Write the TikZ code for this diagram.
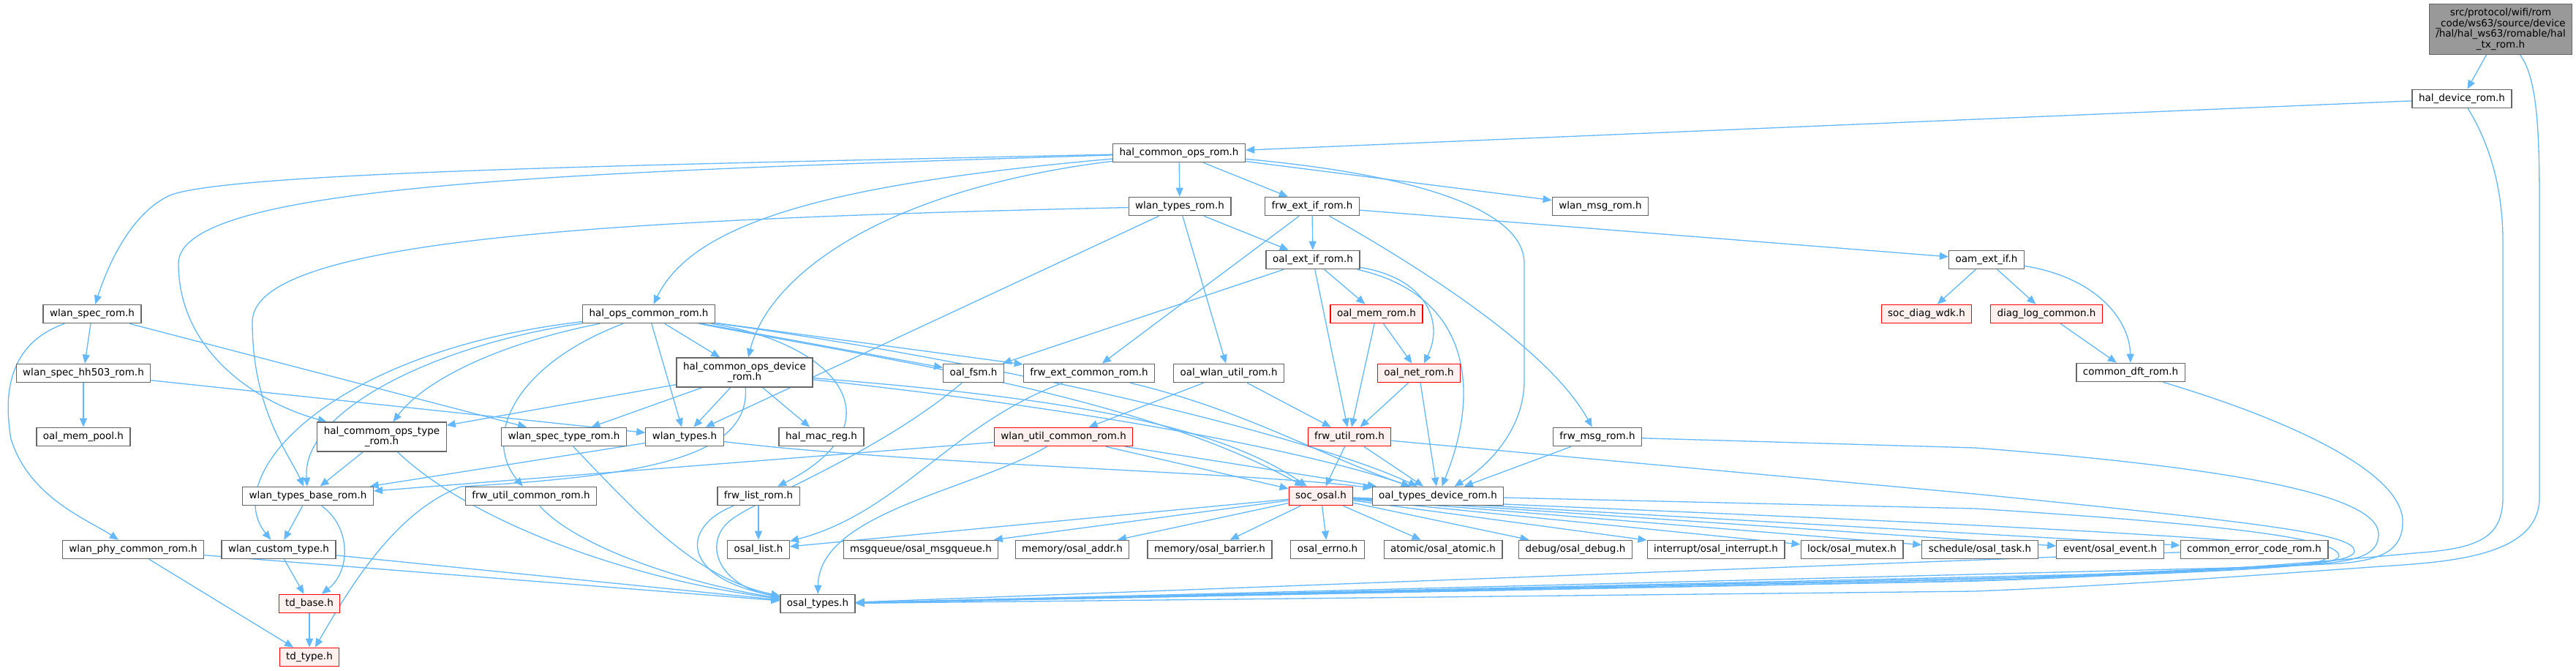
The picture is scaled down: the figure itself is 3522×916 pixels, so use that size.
\documentclass[tikz,border=0pt]{standalone}
\usepackage{fontspec}
\setmainfont{DejaVu Sans}
\usetikzlibrary{arrows.meta}
\usetikzlibrary{backgrounds}

\definecolor{edgeblue}{RGB}{99,184,255}
\definecolor{boxgray}{RGB}{102,102,102}
\definecolor{boxred}{RGB}{255,0,0}
\definecolor{boxpink}{RGB}{255,240,240}
\definecolor{topgray}{RGB}{153,153,153}

\tikzset{
  hdr/.style={draw=boxgray, line width=0.6pt, fill=white,
    font=\fontsize{6.75}{7.25}\selectfont, inner xsep=4.5pt, inner ysep=3pt,
    minimum height=12.5pt},
  redhdr/.style={hdr, draw=boxred, fill=boxpink},
  tophdr/.style={hdr, fill=topgray, align=center},
  dep/.style={draw=edgeblue, line width=0.65pt,
    -{Triangle[length=6pt,width=5pt,fill=edgeblue]}}
}

\begin{document}
\begin{tikzpicture}[x=0.5pt, y=-0.5pt]
    \useasboundingbox (0,0) rectangle (3522,916);

    % rows of headers, top to bottom
    \node[tophdr] (txrom) at (3419,40) {src/protocol/wifi/rom\hfill\\\_code/ws63/source/device\\/hal/hal\_ws63/romable/hal\\\_tx\_rom.h};
    \node[hdr] (hdev) at (3366,135) {hal\_device\_rom.h};
    \node[hdr] (hcops) at (1612,209) {hal\_common\_ops\_rom.h};
    \node[hdr] (wtrom) at (1613,282) {wlan\_types\_rom.h};
    \node[hdr] (fextif) at (1794,282) {frw\_ext\_if\_rom.h};
    \node[hdr] (wmsg) at (2188,282) {wlan\_msg\_rom.h};
    \node[hdr] (oextif) at (1795,355) {oal\_ext\_if\_rom.h};
    \node[hdr] (oamext) at (2716,355) {oam\_ext\_if.h};
    \node[hdr] (wspec) at (126,429) {wlan\_spec\_rom.h};
    \node[hdr] (hopsc) at (887,429) {hal\_ops\_common\_rom.h};
    \node[redhdr] (omem) at (1882,429) {oal\_mem\_rom.h};
    \node[redhdr] (sdiag) at (2634,429) {soc\_diag\_wdk.h};
    \node[redhdr] (dlog) at (2798,429) {diag\_log\_common.h};
    \node[hdr] (hh503) at (114,510) {wlan\_spec\_hh503\_rom.h};
    \node[hdr, align=center] (hdevice) at (1018,509) {hal\_common\_ops\_device\\\_rom.h};
    \node[hdr] (ofsm) at (1331,510) {oal\_fsm.h};
    \node[hdr] (fextc) at (1489,510) {frw\_ext\_common\_rom.h};
    \node[hdr] (owlan) at (1680,510) {oal\_wlan\_util\_rom.h};
    \node[redhdr] (onet) at (1940,510) {oal\_net\_rom.h};
    \node[hdr] (cdft) at (2913,509) {common\_dft\_rom.h};
    \node[hdr] (mpool) at (114,597) {oal\_mem\_pool.h};
    \node[hdr, align=center] (htype) at (522,597) {hal\_commom\_ops\_type\\\_rom.h};
    \node[hdr] (wstype) at (771,597) {wlan\_spec\_type\_rom.h};
    \node[hdr] (wtypes) at (936,597) {wlan\_types.h};
    \node[hdr] (hmac) at (1123,597) {hal\_mac\_reg.h};
    \node[redhdr] (wutil) at (1454,597) {wlan\_util\_common\_rom.h};
    \node[redhdr] (futil) at (1845,597) {frw\_util\_rom.h};
    \node[hdr] (fmsg) at (2184,597) {frw\_msg\_rom.h};
    \node[hdr] (wbase) at (421,678) {wlan\_types\_base\_rom.h};
    \node[hdr] (fuc) at (726,678) {frw\_util\_common\_rom.h};
    \node[hdr] (flist) at (1037,678) {frw\_list\_rom.h};
    \node[redhdr] (sosal) at (1806,678) {soc\_osal.h};
    \node[hdr] (otdev) at (1966,678) {oal\_types\_device\_rom.h};
    \node[hdr] (wphy) at (182,751) {wlan\_phy\_common\_rom.h};
    \node[hdr] (wcust) at (381,751) {wlan\_custom\_type.h};
    \node[hdr] (olist) at (1037,751) {osal\_list.h};
    \node[hdr] (omsgq) at (1259,751) {msgqueue/osal\_msgqueue.h};
    \node[hdr] (oaddr) at (1466,751) {memory/osal\_addr.h};
    \node[hdr] (obar) at (1654,751) {memory/osal\_barrier.h};
    \node[hdr] (oerr) at (1815,751) {osal\_errno.h};
    \node[hdr] (oatom) at (1973,751) {atomic/osal\_atomic.h};
    \node[hdr] (odbg) at (2154,751) {debug/osal\_debug.h};
    \node[hdr] (oint) at (2346,751) {interrupt/osal\_interrupt.h};
    \node[hdr] (omutex) at (2532,751) {lock/osal\_mutex.h};
    \node[hdr] (otask) at (2707,751) {schedule/osal\_task.h};
    \node[hdr] (oevent) at (2885,751) {event/osal\_event.h};
    \node[hdr] (cerr) at (3082,751) {common\_error\_code\_rom.h};
    \node[redhdr] (tdbase) at (423,825) {td\_base.h};
    \node[hdr] (ostypes) at (1118,825) {osal\_types.h};
    \node[redhdr] (tdtype) at (423,898) {td\_type.h};

    % includes, kept behind the boxes
    \begin{pgfonlayer}{background}
    \fill[white] (0,0) rectangle (3522,916);
    \draw[dep] (txrom) -- (hdev);
    \draw[dep] (txrom) .. controls (3472,110) and (3472,200) .. (3472,300) -- (3472,680) .. controls (3472,760) and (3350,768) .. (3256,774) .. controls (3100,785) and (2900,800) .. (2700,808) -- (ostypes);
    \draw[dep] (hdev) -- (hcops);
    \draw[dep] (hdev) .. controls (3400,190) and (3422,250) .. (3422,330) -- (3422,680) .. controls (3422,740) and (3380,750) .. (3300,756) .. controls (3100,775) and (2900,788) .. (2700,794) -- (ostypes);

    \draw[dep] (hcops) -- (wtrom);
    \draw[dep] (hcops) -- (fextif);
    \draw[dep] (hcops) -- (wmsg);
    \draw[dep] (hcops) .. controls (1950,240) and (2084,290) .. (2084,360) -- (2084,520) .. controls (2084,590) and (2030,640) .. (otdev);
    \draw[dep] (hcops) .. controls (900,225) and (300,235) .. (230,268) .. controls (175,295) and (145,370) .. (wspec);
    \draw[dep] (hcops) .. controls (800,235) and (244,250) .. (244,360) .. controls (244,480) and (350,550) .. (htype);
    \draw[dep] (hcops) .. controls (1150,250) and (950,300) .. (hopsc);
    \draw[dep] (hcops) .. controls (1200,260) and (1050,380) .. (hdevice);

    \draw[dep] (wtrom) .. controls (800,300) and (345,330) .. (345,440) .. controls (345,560) and (395,620) .. (wbase);
    \draw[dep] (wtrom) -- (wtypes);
    \draw[dep] (wtrom) -- (owlan);
    \draw[dep] (wtrom) -- (oextif);

    \draw[dep] (fextif) -- (oextif);
    \draw[dep] (fextif) -- (fextc);
    \draw[dep] (fextif) -- (oamext);
    \draw[dep] (fextif) .. controls (1950,370) and (2120,480) .. (fmsg);

    \draw[dep] (oextif) -- (ofsm);
    \draw[dep] (oextif) -- (futil);
    \draw[dep] (oextif) -- (omem);
    \draw[dep] (oextif) .. controls (1950,380) and (1975,440) .. (onet);
    \draw[dep] (oextif) .. controls (2000,400) and (2030,520) .. (otdev);

    \draw[dep] (oamext) -- (sdiag);
    \draw[dep] (oamext) -- (dlog);
    \draw[dep] (oamext) .. controls (2870,380) and (2912,440) .. (cdft);
    \draw[dep] (dlog) -- (cdft);
    \draw[dep] (cdft) .. controls (3150,580) and (3285,650) .. (3285,713) .. controls (3285,750) and (3260,765) .. (3200,770) -- (2700,794) -- (ostypes);

    \draw[dep] (omem) -- (onet);
    \draw[dep] (omem) -- (futil);
    \draw[dep] (onet) -- (futil);
    \draw[dep] (onet) -- (otdev);
    \draw[dep] (futil) -- (sosal);
    \draw[dep] (futil) -- (otdev);
    \draw[dep] (futil) -- (2700,675) .. controls (3100,715) and (3219,730) .. (3219,753) .. controls (3219,768) and (3150,772) .. (3050,776) -- (ostypes);
    \draw[dep] (fmsg) -- (otdev);
    \draw[dep] (fmsg) -- (2700,612) .. controls (3000,635) and (3252,670) .. (3252,730) .. controls (3252,760) and (3220,768) .. (3150,772) -- (2700,792) -- (ostypes);
    \draw[dep] (owlan) -- (wutil);
    \draw[dep] (owlan) -- (futil);

    \draw[dep] (wspec) -- (hh503);
    \draw[dep] (wspec) .. controls (10,470) and (5,540) .. (15,600) .. controls (40,680) and (120,710) .. (wphy);
    \draw[dep] (wspec) -- (wstype);
    \draw[dep] (hh503) -- (mpool);
    \draw[dep] (hh503) -- (wtypes);

    \draw[dep] (hopsc) .. controls (680,470) and (580,520) .. (htype);
    \draw[dep] (hopsc) .. controls (600,470) and (412,560) .. (wbase);
    \draw[dep] (hopsc) .. controls (450,480) and (300,650) .. (wcust);
    \draw[dep] (hopsc) -- (hdevice);
    \draw[dep] (hopsc) -- (wtypes);
    \draw[dep] (hopsc) .. controls (700,500) and (660,600) .. (fuc);
    \draw[dep] (hopsc) -- (ofsm);
    \draw[dep] (hopsc) -- (fextc);
    \draw[dep] (hopsc) .. controls (1150,470) and (1230,580) .. (flist);
    \draw[dep] (hopsc) .. controls (1200,490) and (1560,540) .. (sosal);
    \draw[dep] (hopsc) .. controls (1400,500) and (1800,600) .. (otdev);

    \draw[dep] (hdevice) -- (htype);
    \draw[dep] (hdevice) -- (wstype);
    \draw[dep] (hdevice) -- (wtypes);
    \draw[dep] (hdevice) -- (hmac);
    \draw[dep] (hdevice) .. controls (1025,620) and (900,650) .. (630,665) .. controls (540,700) and (480,800) .. (tdtype);
    \draw[dep] (hdevice) .. controls (1400,540) and (1650,570) .. (sosal);
    \draw[dep] (hdevice) .. controls (1500,560) and (1800,620) .. (otdev);

    \draw[dep] (wtypes) -- (wbase);
    \draw[dep] (wtypes) .. controls (1250,635) and (1700,645) .. (otdev);
    \draw[dep] (wutil) -- (wbase);
    \draw[dep] (wutil) .. controls (1330,670) and (1120,700) .. (ostypes);
    \draw[dep] (wutil) -- (sosal);
    \draw[dep] (wutil) -- (otdev);
    \draw[dep] (fextc) .. controls (1300,580) and (1230,700) .. (olist);
    \draw[dep] (fextc) .. controls (1700,560) and (1800,620) .. (otdev);
    \draw[dep] (ofsm) .. controls (1200,620) and (1040,680) .. (1000,710) .. controls (960,740) and (980,800) .. (ostypes);
    \draw[dep] (flist) -- (olist);
    \draw[dep] (flist) .. controls (930,720) and (930,790) .. (ostypes);

    \draw[dep] (sosal) -- (olist);
    \draw[dep] (sosal) -- (omsgq);
    \draw[dep] (sosal) -- (oaddr);
    \draw[dep] (sosal) -- (obar);
    \draw[dep] (sosal) -- (oerr);
    \draw[dep] (sosal) -- (oatom);
    \draw[dep] (sosal) -- (odbg);
    \draw[dep] (sosal) -- (oint);
    \draw[dep] (sosal) -- (omutex);
    \draw[dep] (sosal) -- (otask);
    \draw[dep] (sosal) -- (oevent);
    \draw[dep] (sosal) -- (cerr);
    \draw[dep] (sosal) .. controls (2300,700) and (2700,715) .. (3000,735) .. controls (3150,745) and (3180,752) .. (3180,762) .. controls (3180,772) and (3100,778) .. (2900,786) -- (ostypes);
    \draw[dep] (otdev) -- (2700,695) .. controls (3100,720) and (3198,740) .. (3198,760) .. controls (3198,772) and (3100,778) .. (2900,784) -- (ostypes);
    \draw[dep] (cerr) -- (ostypes);

    \draw[dep] (htype) -- (wbase);
    \draw[dep] (htype) .. controls (640,710) and (850,790) .. (ostypes);
    \draw[dep] (wstype) .. controls (870,700) and (950,790) .. (ostypes);
    \draw[dep] (fuc) .. controls (790,750) and (950,800) .. (ostypes);
    \draw[dep] (wbase) -- (wcust);
    \draw[dep] (wbase) .. controls (480,720) and (480,780) .. (tdbase);
    \draw[dep] (wcust) -- (tdbase);
    \draw[dep] (wcust) -- (ostypes);
    \draw[dep] (wphy) -- (ostypes);
    \draw[dep] (wphy) -- (tdtype);
    \draw[dep] (tdbase) -- (tdtype);
    \end{pgfonlayer}
\end{tikzpicture}
\end{document}
